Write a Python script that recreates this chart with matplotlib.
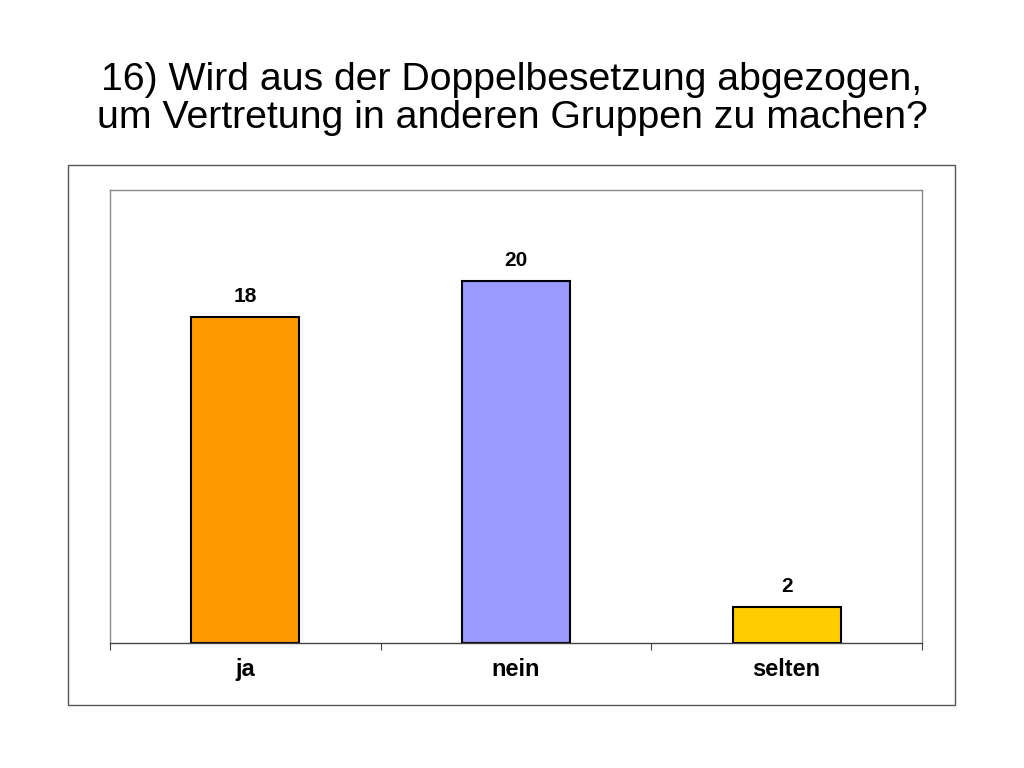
import matplotlib
matplotlib.use("Agg")
import matplotlib.pyplot as plt
from matplotlib.patches import Rectangle

categories = ["ja", "nein", "selten"]
values = [18, 20, 2]
colors = ["#FF9900", "#9999FF", "#FFCC00"]
title = "16) Wird aus der Doppelbesetzung abgezogen,\num Vertretung in anderen Gruppen zu machen?"

plt.rcParams["font.family"] = "Liberation Sans"
W, H = 1024, 768
fig = plt.figure(figsize=(W/100, H/100), dpi=100)
fig.patch.set_facecolor("white")

fig.text(0.5, 1-99/H, title, ha="center", va="center", fontsize=28.3, linespacing=1.05)
fig.add_artist(Rectangle((68/W, 1-705/H), (955-68)/W, (705-165)/H, transform=fig.transFigure,
                         fill=False, edgecolor="#555555", lw=1))

ax = fig.add_axes([110/W, 1-643/H, (922-110)/W, (643-190)/H])
x = range(len(categories))
ax.bar(x, values, width=0.4, color=colors, edgecolor="black", linewidth=1.5)
for xi, v in zip(x, values):
    ax.text(xi, v + 0.6, str(v), ha="center", va="bottom", fontsize=15, fontweight="bold")
ax.set_xlim(-0.5, 2.5)
ax.set_ylim(0, 25)
ax.set_yticks([])
ax.set_xticks([-0.5, 0.5, 1.5, 2.5], minor=False)
ax.set_xticklabels([])
ax.tick_params(axis="x", length=5, color="#444444")
ax.set_xticks(list(x), minor=True)
ax.set_xticklabels(categories, minor=True, fontsize=17, fontweight="bold")
ax.tick_params(axis="x", which="minor", length=0, pad=11)
for s in ax.spines.values():
    s.set_edgecolor("#888888")
    s.set_linewidth(1)
ax.spines["bottom"].set_edgecolor("#444444")
fig.savefig("out.png", dpi=100)
